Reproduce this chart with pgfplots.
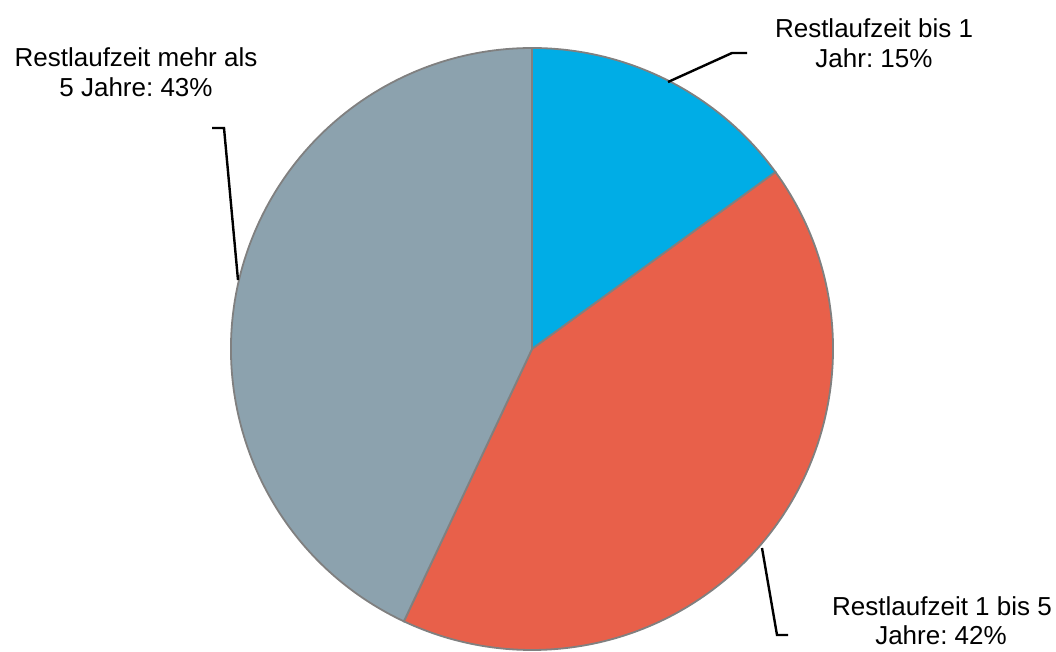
\documentclass[border=0pt]{standalone}
\usepackage{pgfplots}
\usepackage{pgfplotstable}
\pgfplotsset{compat=1.18}
\usepackage{fontspec}
\setmainfont{Liberation Sans}
\frenchspacing
\definecolor{cblue}{RGB}{0,173,230}
\definecolor{cred}{RGB}{232,96,74}
\definecolor{cgray}{RGB}{140,162,174}
\definecolor{cedge}{RGB}{128,128,128}
\tikzset{lbl/.style={anchor=base,inner sep=0pt,font=\fontsize{26}{30}\selectfont,text=black}}
\pgfplotstableread{
share
15
42
43
}\piedata
\begin{document}
\begin{tikzpicture}
\pgfplotstablegetelem{0}{share}\of\piedata \let\sA\pgfplotsretval
\pgfplotstablegetelem{1}{share}\of\piedata \let\sB\pgfplotsretval
\pgfplotstablegetelem{2}{share}\of\piedata \let\sC\pgfplotsretval
\pgfmathsetmacro\aA{90-3.6*\sA}
\pgfmathsetmacro\aB{\aA-3.6*\sB}
\pgfmathsetmacro\aC{\aB-3.6*\sC}
\clip (0,0) rectangle (1056pt,651pt);
\begin{axis}[x=1pt,y=1pt,xmin=0,xmax=1056,ymin=0,ymax=651,
  hide axis, clip=true, anchor=south west, at={(0,0)}]
\filldraw[fill=cblue,draw=cedge,line width=1.8pt] (axis cs:532,302) -- ++(90:301pt) arc[start angle=90,end angle=\aA,radius=301pt] -- cycle;
\filldraw[fill=cred,draw=cedge,line width=1.8pt] (axis cs:532,302) -- ++(\aA:301pt) arc[start angle=\aA,end angle=\aB,radius=301pt] -- cycle;
\filldraw[fill=cgray,draw=cedge,line width=1.8pt] (axis cs:532,302) -- ++(\aB:301pt) arc[start angle=\aB,end angle=\aC,radius=301pt] -- cycle;
\draw[black,line width=2.4pt] (axis cs:668,569) -- (axis cs:732,598) -- (axis cs:747,598);
\draw[black,line width=2.4pt] (axis cs:238,371) -- (axis cs:224,523) -- (axis cs:212,523);
\draw[black,line width=2.4pt] (axis cs:762,103) -- (axis cs:777,16) -- (axis cs:788,16);
\node[lbl] at (axis cs:874,613) {Restlaufzeit bis 1};
\node[lbl] at (axis cs:874,583) {Jahr: 15\%};
\node[lbl] at (axis cs:136,584) {Restlaufzeit mehr als};
\node[lbl] at (axis cs:136,554) {5 Jahre: 43\%};
\node[lbl] at (axis cs:942,36) {Restlaufzeit 1 bis 5};
\node[lbl] at (axis cs:941,7) {Jahre: 42\%};
\end{axis}
\end{tikzpicture}
\end{document}
